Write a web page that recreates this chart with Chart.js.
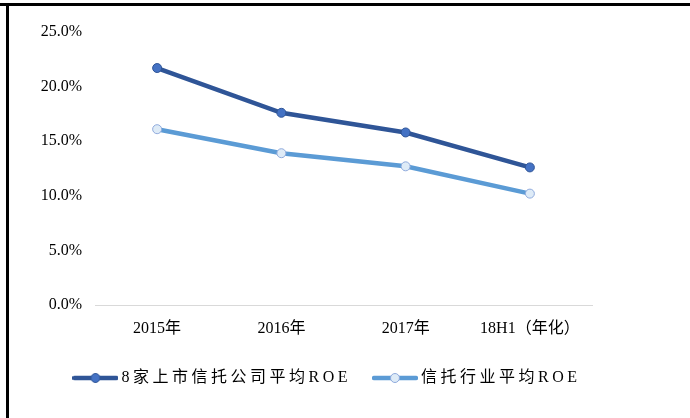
<!DOCTYPE html>
<html>
<head>
<meta charset="utf-8">
<script src="https://cdn.jsdelivr.net/npm/chart.js@4"></script>
<style>
  body { margin: 0; background: #fff; }
  #wrap { position: relative; width: 690px; height: 418px; }
  #myChart { position: absolute; left: 0; top: 0; }
  .frameTop { position: absolute; left: 0; top: 3px; width: 690px; height: 3px; background: #000; }
  .frameLeft { position: absolute; left: 6px; top: 3px; width: 3px; height: 415px; background: #000; }
</style>
</head>
<body>
<div id="wrap">
  <canvas id="myChart" width="690" height="418"></canvas>
  <div class="frameTop"></div>
  <div class="frameLeft"></div>
</div>
<script>
var labels = ['2015年', '2016年', '2017年', '18H1（年化）'];
var listedRoe = [21.7, 17.6, 15.8, 12.6];
var industryRoe = [16.1, 13.9, 12.7, 10.2];
var seriesNames = ['8家上市信托公司平均ROE', '信托行业平均ROE'];
var yTicks = [0, 5, 10, 15, 20, 25];

var FONT = '"Liberation Serif", "Times New Roman", "Noto Sans CJK SC", serif';

function legendMarker(lineColor, fill, stroke){
	var c = document.createElement('canvas');
	c.width = 46; c.height = 12;
	var g = c.getContext('2d');
	g.strokeStyle = lineColor;
	g.lineWidth = 4.5;
	g.lineCap = 'round';
	g.beginPath(); g.moveTo(2, 6); g.lineTo(44, 6); g.stroke();
	g.fillStyle = fill;
	g.strokeStyle = stroke;
	g.lineWidth = 1;
	g.beginPath(); g.arc(23, 6, 4.5, 0, Math.PI * 2); g.fill(); g.stroke();
	return c;
}

var markers = [
	legendMarker('#2F5597', '#4472C4', '#2F5597'),
	legendMarker('#5B9BD5', '#DEEBF7', '#8FAADC')
];

// run fn with some letter spacing on the canvas (the original text is spaced out)
function spaced(obj, name, px){
	var orig = obj[name];
	obj[name] = function(){
		var c = this.ctx;
		var prev = c.letterSpacing;
		c.letterSpacing = px;
		var r = orig.apply(this, arguments);
		c.letterSpacing = prev || '0px';
		return r;
	};
}

var tweaks = {
	id: 'tweaks',
	beforeLayout: function(chart){
		var lg = chart.legend;
		if (lg && !lg._tw) {
			lg._tw = true;
			spaced(lg, 'fit', '3.5px');
			spaced(lg, 'draw', '3.5px');
			var fit = lg.fit;
			lg.fit = function(){
				fit.apply(this, arguments);
				if (this.isHorizontal()) this.height = 74;
			};
		}
	},
	afterLayout: function(chart){
		if (chart.legend) {
			chart.legend.left += 33;
			chart.legend.right += 33;
		}
		['x', 'y'].forEach(function(id){
			var s = chart.scales[id];
			if (s && !s._tw) {
				s._tw = true;
				spaced(s, 'draw', id === 'y' ? '2.5px' : '1px');
			}
		});
	}
};

var ctx = document.getElementById('myChart').getContext('2d');
new Chart(ctx, {
	type: 'line',
	data: {
		labels: labels,
		datasets: [
		{
			label: seriesNames[0],
			data: listedRoe,
			borderColor: '#2F5597',
			borderWidth: 4.5,
			pointBackgroundColor: '#4472C4',
			pointBorderColor: '#2F5597',
			pointBorderWidth: 1,
			pointRadius: 4.5,
			tension: 0
		},
		{
			label: seriesNames[1],
			data: industryRoe,
			borderColor: '#5B9BD5',
			borderWidth: 4.5,
			pointBackgroundColor: '#DEEBF7',
			pointBorderColor: '#8FAADC',
			pointBorderWidth: 1,
			pointRadius: 4.5,
			tension: 0
		}]
	},
	plugins: [tweaks],
	options: {
		responsive: false,
		animation: false,
		layout: { padding: { left: 0, right: 98, top: 32, bottom: 0 } },
		plugins: {
			tooltip: { enabled: false },
			legend: {
				position: 'bottom',
				labels: {
					usePointStyle: true,
					pointStyleWidth: 36,
					padding: 26,
					color: '#000',
					font: { family: FONT, size: 16 },
					generateLabels: function(chart){
						return chart.data.datasets.map(function(ds, i){
							return {
								text: ds.label,
								pointStyle: markers[i],
								fillStyle: ds.borderColor,
								strokeStyle: ds.borderColor,
								lineWidth: 0,
								datasetIndex: i,
								fontColor: '#000'
							};
						});
					}
				}
			}
		},
		scales: {
			x: {
				offset: true,
				afterFit: function(scale){ scale.height = 39; },
				grid: { display: false, drawTicks: false },
				border: { display: true, color: '#D9D9D9', width: 1 },
				ticks: { color: '#000', padding: 14, font: { family: FONT, size: 16 }, maxRotation: 0 }
			},
			y: {
				min: 0,
				max: 25,
				afterBuildTicks: function(scale){
					scale.ticks = yTicks.map(function(v){ return { value: v }; });
				},
				afterFit: function(scale){ scale.width = 95; },
				grid: { display: false, drawTicks: false },
				border: { display: false },
				ticks: {
					color: '#000',
					padding: 13,
					font: { family: FONT, size: 16 },
					callback: function(v){ return Number(v).toFixed(1) + '%'; }
				}
			}
		}
	}
});
</script>
</body>
</html>
